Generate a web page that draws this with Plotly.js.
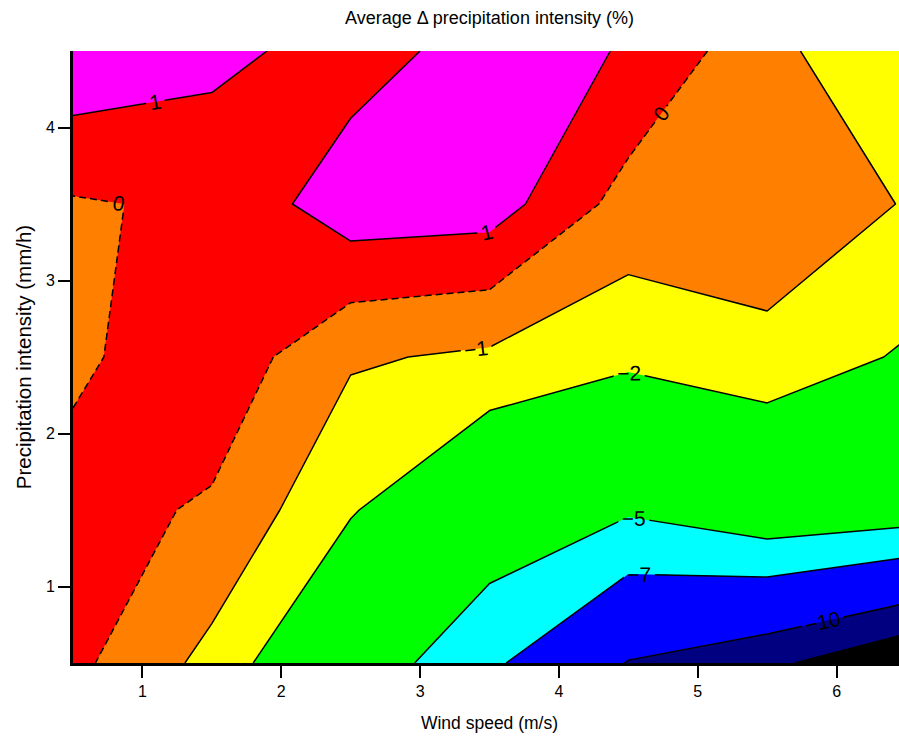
<!DOCTYPE html>
<html>
<head>
<meta charset="utf-8">
<script src="https://cdn.plot.ly/plotly-3.0.1.min.js"></script>
<style>
  html, body { margin: 0; padding: 0; overflow: hidden; background: #fff; }
  #chart { width: 912px; height: 738px; }
</style>
</head>
<body>
<div id="chart"></div>
<script>
// Wind speed (m/s) grid columns
const windSpeed = [0.5, 1.5, 2.5, 3.5, 4.5, 5.5, 6.5];
// Precipitation intensity (mm/h) grid rows
const precipIntensity = [0.5, 1.5, 2.5, 3.5, 4.5];
// Average delta precipitation intensity (%) - one row per precipitation intensity
const deltaRow05 = [0.25, -1.3, -3.65, -6.58, -10.1, -11.53, -13.9];
const deltaRow15 = [0.4, -0.135, -1.9, -3.54, -4.76, -3.47, -3.9];
const deltaRow25 = [-0.2, 0.7, -0.88, -1.17, -1.70, -1.37, -2.12];
const deltaRow35 = [-0.1, 0.17, 1.60, 1.49, -0.40, -0.14, -1.07];
const deltaRow45 = [1.8, 1.31, 0.53, 1.47, 0.93, -0.7, -1.95];

// Contour levels and the fill colour of the band above each level
const levels = [-12, -10, -7, -5, -2, -1, 0, 1];
const bandColors = ['#000080', '#0000FF', '#00FFFF', '#00FF00', '#FFFF00', '#FF8000', '#FF0000', '#FF00FF'];
const lineDash = ['solid', 'solid', 'solid', 'solid', 'solid', 'solid', '7px,4px', 'solid'];
const showLabel = [false, true, true, true, true, true, true, true];

const xTicks = [1, 2, 3, 4, 5, 6];
const yTicks = [1, 2, 3, 4];

const z = [deltaRow05, deltaRow15, deltaRow25, deltaRow35, deltaRow45];

const FONT = 'Liberation Sans, Arial, sans-serif';

// A '<' constraint shades the region that is NOT kept, i.e. z >= level
const traces = levels.map((lv, i) => ({
  type: 'contour',
  x: windSpeed,
  y: precipIntensity,
  z: z,
  contours: {
    type: 'constraint',
    operation: '<',
    value: lv,
    showlabels: showLabel[i],
    labelfont: { family: FONT, size: 21, color: '#000' }
  },
  fillcolor: bandColors[i],
  line: { color: '#000', width: 1.5, dash: lineDash[i], smoothing: 0 },
  hoverinfo: 'skip',
  showlegend: false,
  showscale: false
}));

const layout = {
  width: 912,
  height: 738,
  margin: { l: 73, r: 6, t: 51, b: 75 },
  paper_bgcolor: '#ffffff',
  plot_bgcolor: '#000000',
  font: { family: FONT, color: '#000' },
  title: {
    text: 'Average \u0394 precipitation intensity (%)',
    font: { family: FONT, size: 18, color: '#000' },
    xref: 'paper', x: 0.5, xanchor: 'center',
    yref: 'container', y: 1 - 18 / 738, yanchor: 'middle'
  },
  xaxis: {
    range: [0.5, 6.5],
    tickvals: xTicks,
    ticks: 'outside', ticklen: 12, tickwidth: 2, tickcolor: '#000',
    showline: true, linewidth: 3, linecolor: '#000',
    showgrid: false, zeroline: false,
    tickfont: { family: FONT, size: 16, color: '#000' },
    title: { text: 'Wind speed (m/s)', font: { family: FONT, size: 17.5, color: '#000' }, standoff: 18 }
  },
  yaxis: {
    range: [0.5, 4.5],
    tickvals: yTicks,
    ticks: 'outside', ticklen: 12, tickwidth: 2, tickcolor: '#000',
    showline: true, linewidth: 3, linecolor: '#000',
    showgrid: false, zeroline: false,
    tickfont: { family: FONT, size: 16, color: '#000' },
    title: { text: 'Precipitation intensity (mm/h)', font: { family: FONT, size: 20.5, color: '#000' }, standoff: 9 }
  },
  xaxis2: {
    overlaying: 'x', side: 'top', range: [0.5, 6.5],
    tickvals: xTicks, ticks: 'inside', ticklen: 12, tickwidth: 2, tickcolor: '#000',
    showticklabels: false, showline: true, linewidth: 3, linecolor: '#000',
    showgrid: false, zeroline: false
  },
  yaxis2: {
    overlaying: 'y', side: 'right', range: [0.5, 4.5],
    tickvals: yTicks, ticks: 'inside', ticklen: 12, tickwidth: 2, tickcolor: '#000',
    showticklabels: false, showline: true, linewidth: 3, linecolor: '#000',
    showgrid: false, zeroline: false
  }
};

Plotly.newPlot('chart', traces, layout, { staticPlot: true, displayModeBar: false });
</script>
</body>
</html>
